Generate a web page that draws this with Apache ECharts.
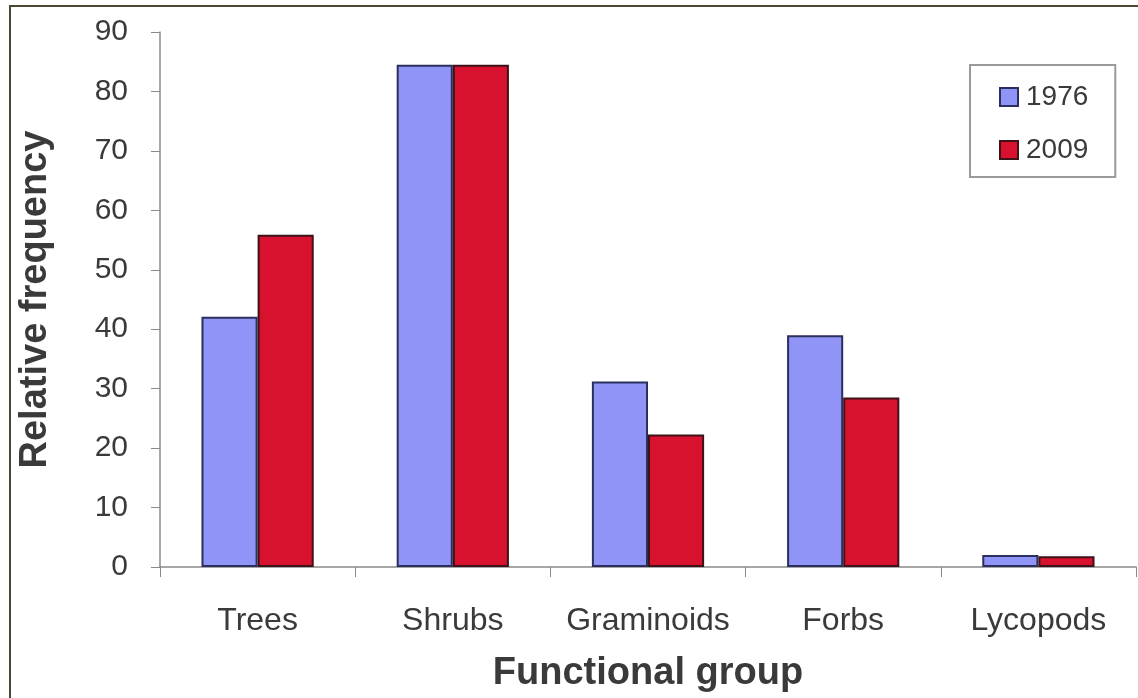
<!DOCTYPE html>
<html><head><meta charset="utf-8">
<script src="https://cdn.jsdelivr.net/npm/echarts@6/dist/echarts.min.js"></script>
<style>html,body{margin:0;padding:0;background:#fff}#c{width:1138px;height:698px}</style>
</head><body><div id="c"></div>
<script>
const categories = ['Trees', 'Shrubs', 'Graminoids', 'Forbs', 'Lycopods'];
const seriesNames = ['1976', '2009'];
const values1976 = [42.1, 84.5, 31.2, 39.0, 2.0];
const values2009 = [55.9, 84.5, 22.3, 28.5, 1.8];
const yTicks = { min: 0, max: 90, interval: 10 };
const axisTitles = { x: 'Functional group', y: 'Relative frequency' };

const chart = echarts.init(document.getElementById('c'), null, { renderer: 'canvas' });
const font = 'Liberation Sans, Arial, sans-serif';
chart.setOption({
  animation: false,
  backgroundColor: '#fff',
  graphic: [{
    type: 'rect', shape: { x: 10, y: 6, width: 1140, height: 700 },
    style: { fill: 'none', stroke: '#4d4632', lineWidth: 2 }, silent: true
  }],
  grid: { left: 160, right: 2, top: 32, bottom: 130, containLabel: false },
  legend: {
    data: seriesNames, orient: 'vertical', left: 970, top: 65,
    padding: [18, 27, 13, 29],
    borderColor: '#9a9a9a', borderWidth: 2, backgroundColor: '#fff',
    itemWidth: 18, itemHeight: 18, itemGap: 25, icon: 'rect',
    textStyle: { fontFamily: font, fontSize: 28, color: '#3a3a3a', padding: [0, 0, 0, 3] }
  },
  xAxis: {
    type: 'category', data: categories,
    name: axisTitles.x, nameLocation: 'middle', nameGap: 88,
    nameTextStyle: { fontFamily: font, fontSize: 38, fontWeight: 'bold', color: '#3a3a3a' },
    axisLine: { lineStyle: { color: '#8a8a8a', width: 1.5 } },
    axisTick: { show: true, interval: 0, length: 10, lineStyle: { color: '#8a8a8a' } },
    axisLabel: { interval: 0, fontFamily: font, fontSize: 32, color: '#3a3a3a', margin: 38 }
  },
  yAxis: {
    type: 'value', min: yTicks.min, max: yTicks.max, interval: yTicks.interval,
    name: axisTitles.y, nameLocation: 'middle', nameGap: 105,
    nameTextStyle: { fontFamily: font, fontSize: 38, fontWeight: 'bold', color: '#3a3a3a' },
    axisLine: { show: true, lineStyle: { color: '#8a8a8a', width: 1.5 } },
    axisTick: { show: true, length: 9, lineStyle: { color: '#8a8a8a' } },
    splitLine: { show: false },
    axisLabel: { fontFamily: font, fontSize: 30, color: '#3a3a3a', margin: 32 }
  },
  series: [
    { name: seriesNames[0], type: 'bar', data: values1976, barGap: '0%', barCategoryGap: '42.5%',
      itemStyle: { color: '#8f94f6', borderColor: '#2b2f5e', borderWidth: 2 } },
    { name: seriesNames[1], type: 'bar', data: values2009, barGap: '0%', barCategoryGap: '42.5%',
      itemStyle: { color: '#d8112f', borderColor: '#3d1218', borderWidth: 2 } }
  ]
});
</script></body></html>
